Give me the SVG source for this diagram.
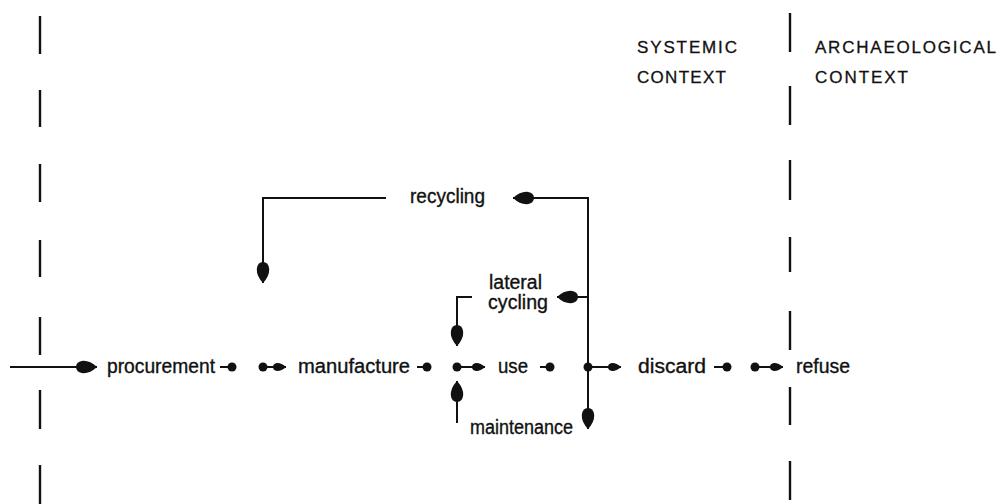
<svg xmlns="http://www.w3.org/2000/svg" width="1000" height="504" viewBox="0 0 1000 504">
  <style>
    .bg { fill: #ffffff; }
    .t { font-family: "Liberation Sans", Arial, sans-serif; font-size: 20px; fill: #111; stroke: #111; stroke-width: 0.35; }
    .cap { font-family: "Liberation Sans", Arial, sans-serif; font-size: 17px; fill: #111; stroke: #111; stroke-width: 0.3; }
    .ln { stroke: #111; stroke-width: 2; fill: none; }
    .bd { stroke: #111; stroke-width: 2.4; fill: none; }
    .dot { fill: #111; }
  </style>
  <defs>
    <marker id="big" markerUnits="userSpaceOnUse" markerWidth="26" markerHeight="16" viewBox="-24 -8 26 16" refX="0" refY="0" orient="auto">
      <path d="M0,0 Q-7,-6.5 -14,-6.2 Q-21,-5.5 -21,0 Q-21,5.5 -14,6.2 Q-7,6.5 0,0 Z" fill="#111"/>
    </marker>
    <marker id="sm" markerUnits="userSpaceOnUse" markerWidth="18" markerHeight="12" viewBox="-16 -6 18 12" refX="0" refY="0" orient="auto">
      <path d="M0,0 Q-4.5,-4.2 -9,-4 Q-13,-3.5 -13,0 Q-13,3.5 -9,4 Q-4.5,4.2 0,0 Z" fill="#111"/>
    </marker>
  </defs>
  <rect class="bg" x="0" y="0" width="1000" height="504"/>

  <g id="boundary-left">
    <line class="bd" x1="40" y1="16" x2="40" y2="54"/>
    <line class="bd" x1="40" y1="90" x2="40" y2="127"/>
    <line class="bd" x1="40" y1="164" x2="40" y2="202"/>
    <line class="bd" x1="40" y1="240" x2="40" y2="277"/>
    <line class="bd" x1="40" y1="317" x2="40" y2="355"/>
    <line class="bd" x1="40" y1="390" x2="40" y2="429"/>
    <line class="bd" x1="40" y1="465" x2="40" y2="504"/>
  </g>
  <g id="boundary-right">
    <line class="bd" x1="790" y1="13" x2="790" y2="52"/>
    <line class="bd" x1="790" y1="86" x2="790" y2="125"/>
    <line class="bd" x1="790" y1="160" x2="790" y2="200"/>
    <line class="bd" x1="790" y1="237" x2="790" y2="272"/>
    <line class="bd" x1="790" y1="311" x2="790" y2="350"/>
    <line class="bd" x1="790" y1="387" x2="790" y2="425"/>
    <line class="bd" x1="790" y1="461" x2="790" y2="500"/>
  </g>

  <g id="label-systemic">
    <text class="cap" x="637" y="53" textLength="100" lengthAdjust="spacing">SYSTEMIC</text>
    <text class="cap" x="637" y="83" textLength="89" lengthAdjust="spacing">CONTEXT</text>
  </g>
  <g id="label-archaeological">
    <text class="cap" x="815" y="53" textLength="181" lengthAdjust="spacing">ARCHAEOLOGICAL</text>
    <text class="cap" x="815" y="83" textLength="93" lengthAdjust="spacing">CONTEXT</text>
  </g>

  <g id="procurement"><text class="t" x="107" y="373" textLength="108" lengthAdjust="spacingAndGlyphs">procurement</text></g>
  <g id="manufacture"><text class="t" x="298" y="373" textLength="112" lengthAdjust="spacingAndGlyphs">manufacture</text></g>
  <g id="use"><text class="t" x="498" y="373" textLength="30" lengthAdjust="spacingAndGlyphs">use</text></g>
  <g id="discard"><text class="t" x="638" y="373" textLength="68" lengthAdjust="spacingAndGlyphs">discard</text></g>
  <g id="refuse"><text class="t" x="796" y="373" textLength="54" lengthAdjust="spacingAndGlyphs">refuse</text></g>
  <g id="recycling"><text class="t" x="410" y="203" textLength="75" lengthAdjust="spacingAndGlyphs">recycling</text></g>
  <g id="lateral-cycling">
    <text class="t" x="489" y="289" textLength="53" lengthAdjust="spacingAndGlyphs">lateral</text>
    <text class="t" x="488" y="309" textLength="60" lengthAdjust="spacingAndGlyphs">cycling</text>
  </g>
  <g id="maintenance"><text class="t" x="470" y="434" textLength="103" lengthAdjust="spacingAndGlyphs">maintenance</text></g>

  <g id="connectors">
    <line class="ln" x1="10" y1="367" x2="97" y2="367" marker-end="url(#big)"/>
    <line class="ln" x1="220" y1="367" x2="232" y2="367"/>
    <circle class="dot" cx="232" cy="367" r="4.5"/>
    <circle class="dot" cx="263" cy="367" r="4.5"/>
    <line class="ln" x1="263" y1="367" x2="286" y2="367" marker-end="url(#sm)"/>
    <line class="ln" x1="417" y1="367" x2="427" y2="367"/>
    <circle class="dot" cx="427" cy="367" r="4.5"/>
    <circle class="dot" cx="457" cy="367" r="4.5"/>
    <line class="ln" x1="457" y1="367" x2="485" y2="367" marker-end="url(#sm)"/>
    <line class="ln" x1="540" y1="367" x2="550" y2="367"/>
    <circle class="dot" cx="550" cy="367" r="4.5"/>
    <circle class="dot" cx="588" cy="367" r="4.5"/>
    <line class="ln" x1="588" y1="367" x2="621" y2="367" marker-end="url(#sm)"/>
    <line class="ln" x1="714" y1="367" x2="727" y2="367"/>
    <circle class="dot" cx="727" cy="367" r="4.5"/>
    <circle class="dot" cx="755" cy="367" r="4.5"/>
    <line class="ln" x1="755" y1="367" x2="783" y2="367" marker-end="url(#sm)"/>

    <path class="ln" d="M588,367 V198 H513" marker-end="url(#big)"/>
    <path class="ln" d="M386,198 H263 V283" marker-end="url(#big)"/>
    <path class="ln" d="M588,297 H557" marker-end="url(#big)"/>
    <path class="ln" d="M472,297 H457 V346" marker-end="url(#big)"/>
    <path class="ln" d="M457,423 V381" marker-end="url(#big)"/>
    <path class="ln" d="M588,367 V429" marker-end="url(#big)"/>
  </g>
</svg>
